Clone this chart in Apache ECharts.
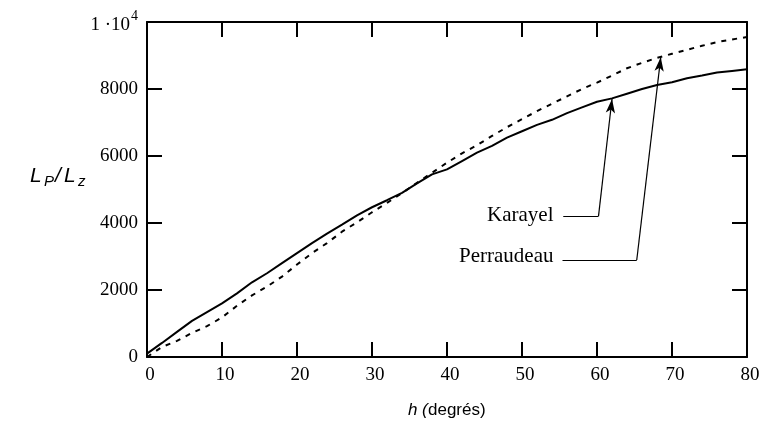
<!DOCTYPE html>
<html>
<head>
<meta charset="utf-8">
<script src="https://cdn.jsdelivr.net/npm/echarts@6/dist/echarts.min.js"></script>
<style>html,body{margin:0;padding:0;background:#fff}#c{width:760px;height:430px}</style>
</head>
<body>
<div id="c"></div>
<script>
// ---- data ----
const hDeg = [0,2,4,6,8,10,12,14,16,18,20,22,24,26,28,30,32,34,36,38,40,42,44,46,48,50,52,54,56,58,60,62,64,66,68,70,72,74,76,78,80];
const karayel = [100,420,750,1080,1340,1600,1900,2230,2500,2800,3100,3400,3680,3950,4230,4470,4680,4900,5180,5450,5600,5850,6100,6300,6550,6740,6930,7080,7280,7450,7620,7720,7860,8000,8120,8200,8320,8400,8490,8540,8590];
const perraudeau = [0,300,480,720,920,1180,1530,1840,2100,2400,2760,3100,3400,3740,4020,4320,4600,4890,5200,5500,5800,6080,6320,6600,6860,7100,7340,7560,7780,8000,8190,8400,8620,8780,8930,9050,9170,9290,9400,9480,9550];
const xTickLabels = ['0','10','20','30','40','50','60','70','80'];
const yTickLabels = ['0','2000','4000','6000','8000','1 ·10'];
const seriesNames = ['Karayel','Perraudeau'];

// annotation leaders in data coordinates: [text anchor, corner, arrow tip]
const annKarayel = {text:[54.2,4215], start:[55.5,4215], corner:[60.2,4205], tip:[62,7700]};
const annPerraudeau = {text:[54.2,3010], start:[55.4,2896], corner:[65.3,2896], tip:[68.5,8946]};

const serif = 'Liberation Serif';
const sans = 'Liberation Sans';

function leader(a){
  return [
    [{coord:a.start, symbol:'none'},{coord:a.corner, symbol:'none'}],
    [{coord:a.corner, symbol:'none'},{coord:a.tip, symbol:'arrow', symbolSize:[7,14]}]
  ];
}
const mlStyle = {silent:true, animation:false, symbol:['none','none'], label:{show:false},
  lineStyle:{type:'solid', color:'#000', width:1.2}, emphasis:{disabled:true}};

const axisCommon = {
  axisLine:{show:true, onZero:false, lineStyle:{color:'#000', width:2}},
  axisTick:{show:true, inside:true, length:15, lineStyle:{color:'#000', width:2}},
  splitLine:{show:false}
};

const chart = echarts.init(document.getElementById('c'), null, {renderer:'canvas'});
chart.setOption({
  animation:false,
  backgroundColor:'#fff',
  grid:{left:147, right:13, top:22, bottom:73, containLabel:false, outerBoundsMode:'none'},
  xAxis:[
    Object.assign({type:'value', min:0, max:80, interval:10, position:'bottom',
      axisLabel:{show:true, margin:9, color:'#000', fontFamily:serif, fontSize:19, padding:[0,0,0,6],
        formatter:(v)=>xTickLabels[Math.round(v/10)]}}, axisCommon),
    Object.assign({type:'value', min:0, max:80, interval:10, position:'top',
      axisLabel:{show:false}}, axisCommon)
  ],
  yAxis:[
    Object.assign({type:'value', min:0, max:10000, interval:2000, position:'left',
      axisLabel:{show:true, margin:9, color:'#000', fontFamily:serif, fontSize:19,
        formatter:(v)=>{const i=Math.round(v/2000); return i===5 ? '{n|'+yTickLabels[i]+'}{s|4}' : yTickLabels[i];},
        rich:{n:{fontFamily:serif, fontSize:19, color:'#000', verticalAlign:'bottom', lineHeight:26},
              s:{fontFamily:serif, fontSize:14, color:'#000', verticalAlign:'top', lineHeight:26, padding:[0,0,10,1]}}}}, axisCommon),
    Object.assign({type:'value', min:0, max:10000, interval:2000, position:'right',
      axisLabel:{show:false}}, axisCommon)
  ],
  series:[
    {name:seriesNames[0], type:'line', data:hDeg.map((h,i)=>[h,karayel[i]]), showSymbol:false, symbol:'none',
      lineStyle:{color:'#000', width:2}, xAxisIndex:0, yAxisIndex:0,
      markLine:Object.assign({data:leader(annKarayel)}, mlStyle)},
    {name:seriesNames[1], type:'line', data:hDeg.map((h,i)=>[h,perraudeau[i]]), showSymbol:false, symbol:'none',
      lineStyle:{color:'#000', width:2, type:[5,6]}, xAxisIndex:0, yAxisIndex:0,
      markLine:Object.assign({data:leader(annPerraudeau)}, mlStyle)}
  ]
});

const pK = chart.convertToPixel({gridIndex:0}, annKarayel.text);
const pP = chart.convertToPixel({gridIndex:0}, annPerraudeau.text);
chart.setOption({
  graphic:[
    {type:'text', x:pK[0], y:pK[1], style:{text:seriesNames[0], font:'21px "'+serif+'"', fill:'#000', align:'right', verticalAlign:'middle'}},
    {type:'text', x:pP[0], y:pP[1], style:{text:seriesNames[1], font:'21px "'+serif+'"', fill:'#000', align:'right', verticalAlign:'middle'}},
    // y-axis title  L_P / L_z
    {type:'group', x:30, y:176, children:[
      {type:'text', x:0, y:0, style:{text:'L', font:'italic 21px "'+sans+'"', fill:'#000', verticalAlign:'middle'}},
      {type:'text', x:14, y:6, style:{text:'P', font:'italic 15px "'+sans+'"', fill:'#000', verticalAlign:'middle'}},
      {type:'text', x:25, y:0, style:{text:'/', font:'italic 21px "'+sans+'"', fill:'#000', verticalAlign:'middle'}},
      {type:'text', x:34, y:0, style:{text:'L', font:'italic 21px "'+sans+'"', fill:'#000', verticalAlign:'middle'}},
      {type:'text', x:48, y:6, style:{text:'z', font:'italic 15px "'+sans+'"', fill:'#000', verticalAlign:'middle'}}
    ]},
    // x-axis title  h (degrés)
    {type:'group', x:408, y:410, children:[
      {type:'text', x:0, y:0, style:{text:'h', font:'italic 17px "'+sans+'"', fill:'#000', verticalAlign:'middle'}},
      {type:'text', x:14, y:0, style:{text:'(', font:'italic 17px "'+sans+'"', fill:'#000', verticalAlign:'middle'}},
      {type:'text', x:20, y:0, style:{text:'degrés)', font:'17px "'+sans+'"', fill:'#000', verticalAlign:'middle'}}
    ]}
  ]
});
</script>
</body>
</html>
